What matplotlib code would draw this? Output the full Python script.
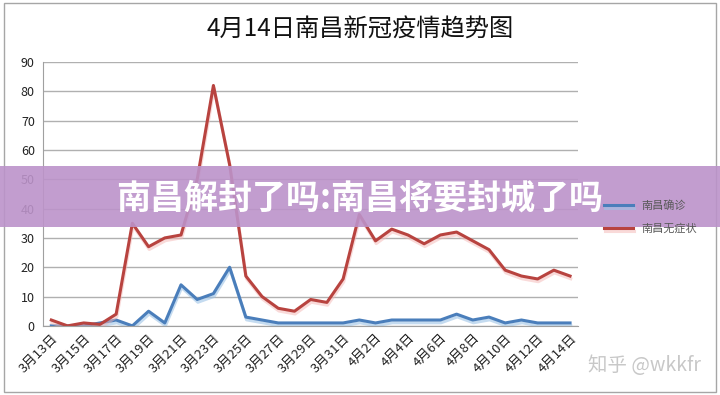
import matplotlib
matplotlib.use('Agg')
import matplotlib.pyplot as plt
import matplotlib.patheffects as pe
from matplotlib.patches import Rectangle

plt.rcParams['font.family'] = ['Noto Sans CJK SC', 'DejaVu Sans']

# 3月13日 .. 4月14日, one value per day
dates = ['3月%d日' % d for d in range(13, 32)] + ['4月%d日' % d for d in range(1, 15)]
confirmed = [0, 0, 0, 1, 2, 0, 5, 1, 14, 9, 11, 20, 3, 2, 1, 1, 1, 1, 1,
             2, 1, 2, 2, 2, 2, 4, 2, 3, 1, 2, 1, 1, 1]
asymptomatic = [2, 0, 1, 0.5, 4, 35, 27, 30, 31, 50, 82, 55, 17, 10, 6, 5, 9, 8, 16,
                38, 29, 33, 31, 28, 31, 32, 29, 26, 19, 17, 16, 19, 17]
series_names = ['南昌确诊', '南昌无症状']
yticks = list(range(0, 100, 10))

fig = plt.figure(figsize=(7.2, 3.95), dpi=100, facecolor='white')
ax = fig.add_axes([0.06, 0.175, 0.743, 0.668])

xs = list(range(len(dates)))
blue = '#4A7EBB'
red = '#B8433F'
ax.plot(xs, confirmed, color=blue, lw=2.2, label=series_names[0],
        path_effects=[pe.SimpleLineShadow(offset=(0.5, -2), shadow_color='#9DC3E6', alpha=0.6), pe.Normal()])
ax.plot(xs, asymptomatic, color=red, lw=2.2, label=series_names[1],
        path_effects=[pe.SimpleLineShadow(offset=(0.5, -2), shadow_color='#F4B6B4', alpha=0.5), pe.Normal()])

ax.set_xlim(-0.5, len(dates) - 0.5)
ax.set_ylim(0, 90)
ax.set_yticks(yticks)
ax.yaxis.grid(True, color='#B0B0B0', lw=1)
ax.set_axisbelow(True)
for s in ['top', 'right']:
    ax.spines[s].set_visible(False)
ax.spines['left'].set_color('#A0A0A0')
ax.spines['bottom'].set_color('#A0A0A0')
ax.tick_params(axis='y', length=0, labelsize=9, pad=6, labelcolor='#222222')
ax.set_xticks(xs[::2])
ax.set_xticklabels(dates[::2], rotation=45, ha='right', rotation_mode='anchor',
                   fontsize=9.5, color='#222222')
ax.tick_params(axis='x', length=0, pad=4)

fig.text(0.5, 0.924, '4月14日南昌新冠疫情趋势图', ha='center', va='center',
         fontsize=17.5, color='#111111')

leg = fig.legend(loc='center left', bbox_to_anchor=(0.825, 0.45), frameon=False,
                 fontsize=8, handlelength=2.6, labelspacing=1.1)
for t in leg.get_texts():
    t.set_color('#595959')

# chart frame
fig.patches.append(Rectangle((0.005, 0.008), 0.99, 0.985, transform=fig.transFigure,
                             fill=False, edgecolor='#A6A6A6', lw=1))

# overlay banner
fig.patches.append(Rectangle((0, 0.425), 1, 0.155, transform=fig.transFigure,
                             facecolor='#BC93CA', alpha=0.9, edgecolor='none', zorder=5))
fig.text(0.5, 0.5, '南昌解封了吗:南昌将要封城了吗', ha='center', va='center',
         fontsize=24.5, fontweight='bold', color='white', zorder=6)

fig.text(0.895, 0.075, '知乎 @wkkfr', ha='center', va='center', fontsize=14,
         color='#C8C8C8')

fig.savefig('out.png', dpi=100, facecolor='white')
